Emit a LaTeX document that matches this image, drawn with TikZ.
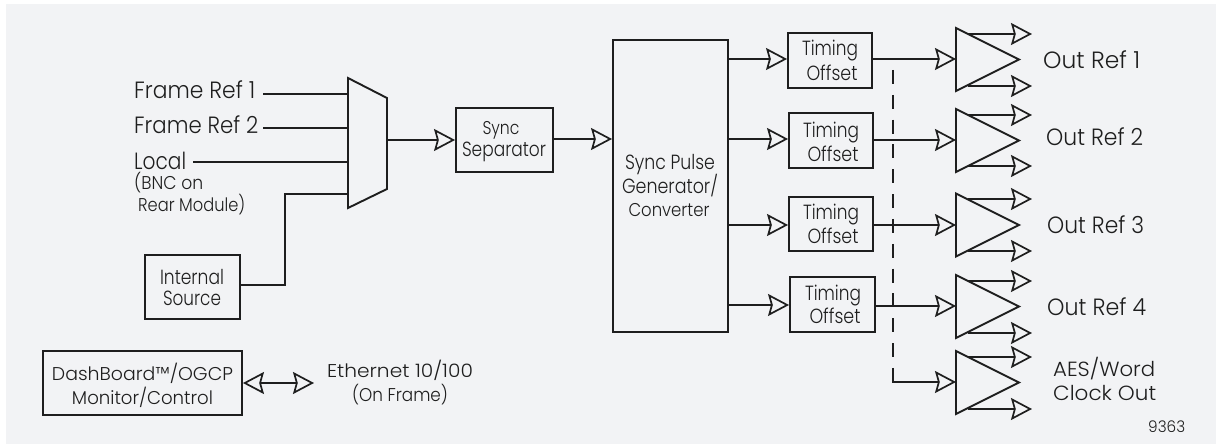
\documentclass[tikz,border=0pt]{standalone}
\usepackage{fontspec}
\usepackage{graphicx}
\setmainfont{Poppins}[UprightFont=* Light]
\usetikzlibrary{arrows.meta}
\definecolor{ink}{HTML}{1E1E1E}
\definecolor{bgc}{HTML}{F2F3F5}
\newcommand\wt[2]{\resizebox{#1pt}{\height}{#2}}
\tikzset{
  headtip/.tip={Stealth[open,length=21pt,width=22pt,inset=3pt,fill=bgc]},
  wire/.style={draw=ink,line width=1.7pt},
  flow/.style={wire,-headtip},
  blockbox/.style={draw=ink,line width=1.9pt,inner sep=0pt},
  polyline/.style={draw=ink,line width=1.9pt,line join=miter},
  txt/.style={anchor=base,inner sep=0pt,text=ink},
  big/.style={txt,font=\fontsize{23.5}{23.5}\selectfont},
  mid/.style={txt,font=\fontsize{20.5}{20.5}\selectfont},
  sml/.style={txt,font=\fontsize{18.5}{18.5}\selectfont},
}
\begin{document}
\begin{tikzpicture}[x=1pt,y=-1pt]
\useasboundingbox (0,0) rectangle (1216,444);
\fill[bgc] (6,4) rectangle (1216,444);
% multiplexer
\draw[polyline] (348,78) coordinate (muxa) -- (387,98) -- (387,189) -- (348,208) -- cycle;
\coordinate (muxout) at (387,140);
\coordinate (mi1) at (348,94);
\coordinate (mi2) at (348,128);
\coordinate (mi3) at (348,162);
\coordinate (mi4) at (348,194);
% blocks
\node[blockbox,minimum width=97pt,minimum height=64pt] (sep) at (504.5,140) {};
\node[blockbox,minimum width=115pt,minimum height=292pt] (gen) at (670.5,186) {};
\node[blockbox,minimum width=95pt,minimum height=64pt] (int) at (192.5,287) {};
\node[blockbox,minimum width=199pt,minimum height=64pt] (dash) at (142.5,383) {};
\node[blockbox,minimum width=84pt,minimum height=55pt] (t1) at (830,60.5) {};
\node[blockbox,minimum width=84pt,minimum height=55pt] (t2) at (831,140.5) {};
\node[blockbox,minimum width=84pt,minimum height=54pt] (t3) at (831,224) {};
\node[blockbox,minimum width=85pt,minimum height=55pt] (t4) at (832.5,304.5) {};
% amplifiers
\foreach \n/\m/\u/\d in {1/59.5/34/86,2/140.5/115/166,3/225/199/251,4/306.5/281/333,5/382.5/357/409}{
  \draw[polyline] (956,\m-31.5) -- (1019,\m) -- (956,\m+31.5) -- cycle;
  \coordinate (a\n) at (956,\m);
  \coordinate (a\n u) at (968,\u);
  \coordinate (a\n d) at (968,\d);
  \coordinate (o\n u) at (1032,\u);
  \coordinate (o\n d) at (1032,\d);
  \draw[flow] (a\n u) -- (o\n u);
  \draw[flow] (a\n d) -- (o\n d);
}
% inputs
\node[big,anchor=base west] (fr1) at (134,99) {\wt{121}{Frame Ref 1}};
\node[big,anchor=base west] (fr2) at (134,134) {\wt{124}{Frame Ref 2}};
\node[big,anchor=base west] (loc) at (134,169) {\wt{52}{Local}};
\node[sml,anchor=base west] (bnc) at (134,189) {\wt{69}{(BNC on}};
\node[sml,anchor=base west] (rear) at (138,211) {\wt{107}{Rear Module)}};
\coordinate (fr1e) at (263,94);
\coordinate (fr2e) at (263,128);
\coordinate (loce) at (193,162);
\draw[wire] (fr1e) -- (mi1);
\draw[wire] (fr2e) -- (mi2);
\draw[wire] (loce) -- (mi3);
\draw[wire] (int.east |- 0,285) -| (285,194) -- (mi4);
\draw[flow] (muxout) -- (sep.west |- muxout);
\draw[flow] (sep.east |- 0,139) -- (gen.west |- 0,139);
\foreach \n/\m/\y in {1/59/59,2/139/140,3/225/225,4/305/306}{
  \draw[flow] (gen.east |- 0,\m) -- (t\n.west |- 0,\m);
  \draw[flow] (t\n.east |- 0,\y) -- (a\n |- 0,\y);
}
\coordinate (ds) at (893,70);
\coordinate (dc) at (893,382);
\draw[wire,dash pattern=on 14pt off 10.83pt] (ds) -- (dc);
\draw[flow] (dc) ++(-0.85,0) -- (a5 |- dc);
\draw[wire,headtip-headtip] (dash.east) -- (314,383) coordinate (eth);
% labels
\node[mid] (l1) at (192,284) {\wt{64}{Internal}};
\node[mid] (l2) at (192,305) {\wt{58}{Source}};
\node[sml] (l3) at (501,135) {\wt{37}{Sync}};
\node[mid] (l4) at (504,157) {\wt{84}{Separator}};
\node[mid] (l5) at (670,169) {\wt{90}{Sync Pulse}};
\node[mid] (l6) at (670,193) {\wt{96}{Generator/}};
\node[sml] (l7) at (669,216) {\wt{81}{Converter}};
\foreach \n/\x/\ya/\yb in {1/830/56/81,2/831/137/161,3/831/219/243,4/833/300/323}{
  \node[mid] (ti\n) at (\x,\ya) {\wt{56}{Timing}};
  \node[mid] (of\n) at (\x+2,\yb) {\wt{51}{Offset}};
}
\node[big,anchor=base west] (r1) at (1043,69) {\wt{97}{Out Ref 1}};
\node[big,anchor=base west] (r2) at (1046,146) {\wt{97}{Out Ref 2}};
\node[big,anchor=base west] (r3) at (1047,233) {\wt{97}{Out Ref 3}};
\node[big,anchor=base west] (r4) at (1047,315) {\wt{99}{Out Ref 4}};
\node[mid,anchor=base west] (r5) at (1053,376) {\wt{102}{AES/Word}};
\node[mid,anchor=base west] (r6) at (1053,400) {\wt{103}{Clock Out}};
\node[txt,font=\fontsize{16}{16}\selectfont,anchor=base west] (num) at (1148,432) {\wt{37}{9363}};
\node[sml] (d1) at (142.5,380) {\wt{181}{DashBoard™/OGCP}};
\node[sml] (d2) at (142.5,404) {\wt{141}{Monitor/Control}};
\node[sml] (e1) at (400,377) {\wt{146}{Ethernet 10/100}};
\node[sml] (e2) at (400,401) {\wt{96}{(On Frame)}};
\end{tikzpicture}
\end{document}
